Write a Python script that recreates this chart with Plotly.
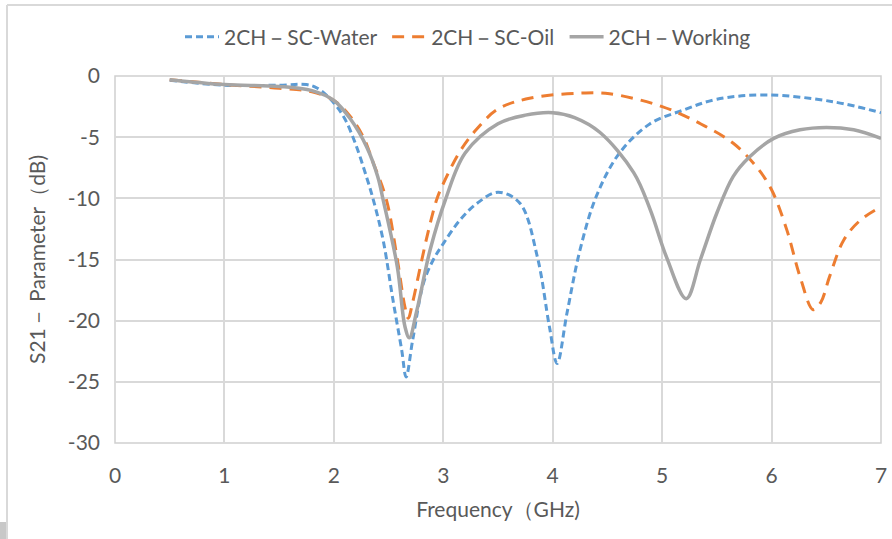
import plotly.graph_objects as go

# ---- data ----
water_x = [0.5, 1.0, 1.5, 1.75, 1.85, 2.0, 2.1, 2.2, 2.3, 2.36, 2.45, 2.54, 2.62, 2.66, 2.72, 2.82, 2.91, 3.0, 3.15, 3.31, 3.5, 3.7, 3.86, 3.97, 4.04, 4.13, 4.25, 4.4, 4.61, 4.89, 5.19, 5.5, 5.96, 6.56, 7.0]
water_y = [-0.35, -0.75, -0.75, -0.7, -1.0, -2.2, -3.5, -5.6, -8.3, -10.1, -13.4, -18.3, -22.4, -24.6, -21.6, -16.9, -15.0, -13.7, -11.8, -10.4, -9.5, -10.4, -14.8, -20.5, -23.5, -19.4, -14.2, -9.8, -6.3, -3.9, -2.8, -1.9, -1.55, -2.1, -3.0]

oil_x = [0.5, 1.0, 1.5, 1.8, 2.0, 2.15, 2.27, 2.36, 2.48, 2.58, 2.65, 2.68, 2.72, 2.79, 2.86, 2.94, 3.0, 3.15, 3.3, 3.5, 3.8, 4.25, 4.52, 5.0, 5.35, 5.65, 5.86, 6.0, 6.14, 6.26, 6.38, 6.45, 6.53, 6.66, 6.81, 7.0]
oil_y = [-0.3, -0.7, -1.0, -1.3, -2.0, -3.3, -5.0, -7.1, -10.1, -15.0, -18.9, -19.8, -18.5, -15.6, -12.8, -10.1, -8.8, -6.2, -4.4, -2.7, -1.8, -1.4, -1.45, -2.5, -3.9, -5.5, -7.4, -9.3, -12.6, -16.4, -19.1, -18.5, -16.4, -13.4, -11.8, -10.7]

work_x = [0.5, 1.0, 1.5, 1.8, 2.0, 2.15, 2.3, 2.4, 2.45, 2.58, 2.65, 2.69, 2.76, 2.88, 3.02, 3.2, 3.5, 3.75, 4.0, 4.2, 4.43, 4.74, 4.89, 5.04, 5.22, 5.35, 5.5, 5.65, 5.8, 6.02, 6.26, 6.5, 6.75, 7.0]
work_y = [-0.3, -0.7, -0.85, -1.2, -2.0, -3.5, -5.8, -8.2, -10.1, -15.6, -20.5, -21.4, -19.1, -14.2, -10.1, -6.3, -3.9, -3.2, -3.0, -3.4, -4.6, -7.9, -10.9, -14.8, -18.2, -15.0, -11.2, -8.2, -6.6, -5.1, -4.4, -4.2, -4.4, -5.1]

names = ["2CH－SC-Water", "2CH－SC-Oil", "2CH－Working"]
x_ticks = [0, 1, 2, 3, 4, 5, 6, 7]
y_ticks = [0, -5, -10, -15, -20, -25, -30]

FONT = "Lato"
TXT = "#595959"
FS = 21
PAD = "\u00a0" * 1

fig = go.Figure()
fig.add_trace(go.Scatter(x=water_x, y=water_y, name=names[0] + PAD, mode="lines",
                         line=dict(color="#5B9BD5", width=3, dash="7px,4px", shape="spline", smoothing=1.0)))
fig.add_trace(go.Scatter(x=oil_x, y=oil_y, name=names[1] + PAD, mode="lines",
                         line=dict(color="#ED7D31", width=3, dash="12px,8px", shape="spline", smoothing=1.0)))
fig.add_trace(go.Scatter(x=work_x, y=work_y, name=names[2], mode="lines",
                         line=dict(color="#A5A5A5", width=3.5, shape="spline", smoothing=1.0)))

L, R, T, B = 115, 11, 76, 96
W, H = 892, 539
pw, ph = W - L - R, H - T - B

def px(xp):
    return (xp - L) / pw

def py(yp):
    return (H - B - yp) / ph

shapes = [
    dict(type="line", xref="paper", yref="paper", x0=px(7), x1=px(892), y0=py(5), y1=py(5),
         line=dict(color="#D9D9D9", width=2)),
    dict(type="line", xref="paper", yref="paper", x0=px(7), x1=px(7), y0=py(5), y1=py(539),
         line=dict(color="#D9D9D9", width=2)),
    dict(type="rect", xref="paper", yref="paper", x0=px(0), x1=px(6), y0=py(522), y1=py(539),
         line=dict(width=0), fillcolor="#C8C8C8"),
    dict(type="rect", xref="paper", yref="paper", x0=0, x1=1, y0=0, y1=1,
         line=dict(color="#D0D0D0", width=1.5), layer="below"),
]

fig.update_layout(
    width=W, height=H, autosize=False,
    margin=dict(l=L, r=R, t=T, b=B, autoexpand=False),
    paper_bgcolor="white", plot_bgcolor="white",
    font=dict(family=FONT, color=TXT, size=FS),
    showlegend=True,
    legend=dict(orientation="h", x=px(180), xanchor="left", y=py(37), yanchor="middle",
                font=dict(size=FS, color=TXT), itemwidth=34, tracegroupgap=0,
                bgcolor="rgba(0,0,0,0)"),
    shapes=shapes,
    xaxis=dict(range=[0, 7], tickvals=x_ticks, ticktext=[str(v) for v in x_ticks],
               showgrid=True, gridcolor="#D9D9D9", gridwidth=1.5, zeroline=False,
               showline=False, ticks="", tickfont=dict(size=FS, color=TXT),
               ticklabelstandoff=18, automargin=False,
               title=dict(text="Frequency（GHz)", font=dict(size=FS, color=TXT), standoff=16)),
    yaxis=dict(range=[-30, 0], tickvals=y_ticks, ticktext=[str(v) for v in y_ticks],
               showgrid=True, gridcolor="#D9D9D9", gridwidth=1.5, zeroline=False,
               showline=False, ticks="", tickfont=dict(size=FS, color=TXT),
               ticklabelstandoff=14, automargin=False,
               title=dict(text="S21－ Parameter（dB)", font=dict(size=FS, color=TXT), standoff=16)),
)

fig.write_html("out.html")
